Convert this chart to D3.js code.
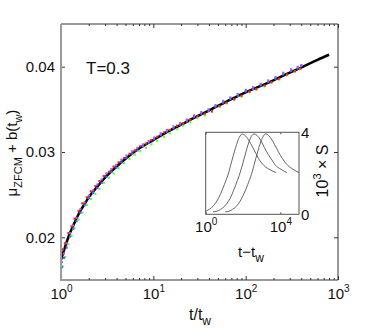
<!DOCTYPE html>
<html>
<head>
<meta charset="utf-8">
<script src="https://cdn.jsdelivr.net/npm/d3@7"></script>
<style>
  body { margin: 0; background: #fff; }
  text { font-family: "Liberation Sans", Arial, Helvetica, sans-serif; fill: #111; }
</style>
</head>
<body>
<div class="chart"></div>
<script>
// main curve: t/tw vs mu_ZFCM + b(tw)
const tLine = [1, 1.1, 1.25, 1.4, 1.6, 1.8, 2, 2.5, 3, 4, 5, 7, 10, 15, 20, 30, 50, 70, 100, 150, 200, 300, 400, 600, 800];
const muLine = [0.01735, 0.0188, 0.0205, 0.0217, 0.0230, 0.0239, 0.0247, 0.0260, 0.0270, 0.0283, 0.0292, 0.0304, 0.0314, 0.0325, 0.0332, 0.0342, 0.0354, 0.0362, 0.0370, 0.0378, 0.0384, 0.0393, 0.0399, 0.0408, 0.0414];

// scattered data (four waiting times), two staggered t/tw grids
const tDotsA = [1.0, 1.05, 1.1, 1.2, 1.3, 1.4, 1.55, 1.7, 1.9, 2.1, 2.35, 2.6, 2.9, 3.3, 3.7, 4.2, 4.8, 5.5, 6.3, 7.2, 8.3, 9.5, 11, 13, 15, 18, 21, 25, 30, 36, 43, 52, 62, 75, 90, 110, 130, 160, 190, 230, 280, 340, 390];
const tDotsB = [1.02, 1.07, 1.15, 1.25, 1.35, 1.47, 1.62, 1.8, 2.0, 2.22, 2.47, 2.75, 3.1, 3.5, 3.95, 4.5, 5.1, 5.9, 6.7, 7.7, 8.9, 10.2, 12, 14, 16.5, 19.5, 23, 27.5, 33, 39.5, 47, 57, 68, 82, 100, 120, 145, 175, 210, 255, 310, 365, 400];
const muRed = [0.0179, 0.0186, 0.0193, 0.0205, 0.0213, 0.0222, 0.0231, 0.0240, 0.0247, 0.0254, 0.0260, 0.0266, 0.0272, 0.0277, 0.0283, 0.0288, 0.0293, 0.0298, 0.0302, 0.0307, 0.0310, 0.0314, 0.0318, 0.0323, 0.0326, 0.0331, 0.0334, 0.0338, 0.0342, 0.0345, 0.0348, 0.0354, 0.0358, 0.0362, 0.0366, 0.0371, 0.0374, 0.0378, 0.0382, 0.0386, 0.0391, 0.0395, 0.0398];
const muGreen = [0.0155, 0.0166, 0.0177, 0.0192, 0.0202, 0.0211, 0.0221, 0.0229, 0.0238, 0.0245, 0.0251, 0.0257, 0.0264, 0.0270, 0.0275, 0.0281, 0.0287, 0.0292, 0.0297, 0.0301, 0.0305, 0.0309, 0.0313, 0.0318, 0.0322, 0.0327, 0.0331, 0.0335, 0.0340, 0.0343, 0.0347, 0.0353, 0.0357, 0.0361, 0.0365, 0.0370, 0.0373, 0.0377, 0.0381, 0.0385, 0.0390, 0.0394, 0.0397];
const muBlue = [0.0165, 0.0176, 0.0188, 0.0201, 0.0210, 0.0219, 0.0229, 0.0238, 0.0246, 0.0252, 0.0258, 0.0264, 0.0271, 0.0277, 0.0282, 0.0288, 0.0293, 0.0298, 0.0302, 0.0307, 0.0311, 0.0315, 0.0320, 0.0324, 0.0328, 0.0332, 0.0336, 0.0341, 0.0345, 0.0348, 0.0353, 0.0358, 0.0362, 0.0366, 0.0371, 0.0374, 0.0378, 0.0382, 0.0386, 0.0391, 0.0395, 0.0398, 0.0401];
const muPurple = [0.0171, 0.0181, 0.0193, 0.0205, 0.0214, 0.0223, 0.0233, 0.0241, 0.0249, 0.0255, 0.0262, 0.0268, 0.0275, 0.0280, 0.0285, 0.0291, 0.0296, 0.0301, 0.0305, 0.0309, 0.0313, 0.0317, 0.0322, 0.0326, 0.0330, 0.0334, 0.0338, 0.0343, 0.0347, 0.0350, 0.0355, 0.0360, 0.0364, 0.0368, 0.0373, 0.0376, 0.0380, 0.0384, 0.0388, 0.0393, 0.0397, 0.0400, 0.0402];
const dotSeries = [
  { color: "#66ff33", t: tDotsA, values: muGreen },
  { color: "#3b6cff", t: tDotsB, values: muBlue },
  { color: "#a35cff", t: tDotsB, values: muPurple },
  { color: "#ff2020", t: tDotsA, values: muRed }
];

// inset: 10^3 x S vs t - tw, three waiting times
const insetT1 = [1, 1.6, 2.5, 4, 6.3, 10, 16, 25, 40, 63, 91, 126, 200, 316, 500, 794, 1259, 1995, 3162, 5754];
const insetS1 = [0.15, 0.25, 0.4, 0.65, 1.0, 1.45, 1.95, 2.6, 3.25, 3.75, 3.92, 3.85, 3.62, 3.3, 2.95, 2.62, 2.4, 2.25, 2.15, 2.03];
const insetT2 = [2.5, 4, 6.3, 10, 16, 25, 40, 63, 100, 158, 251, 380, 562, 891, 1413, 2239, 3548, 5623, 8913, 14125, 22909];
const insetS2 = [0.12, 0.15, 0.24, 0.38, 0.62, 0.95, 1.42, 1.9, 2.52, 3.18, 3.72, 3.92, 3.85, 3.6, 3.25, 2.92, 2.65, 2.38, 2.24, 2.13, 2.03];
const insetT3 = [11, 18, 28, 45, 71, 112, 178, 282, 447, 708, 1122, 1622, 2512, 3981, 6310, 10000, 15849, 25119, 39811, 63096, 100000];
const insetS3 = [0.12, 0.15, 0.25, 0.4, 0.65, 1.0, 1.45, 1.95, 2.6, 3.25, 3.75, 3.92, 3.82, 3.55, 3.22, 2.88, 2.6, 2.38, 2.24, 2.13, 2.03];
const insetCurves = [[insetT1, insetS1], [insetT2, insetS2], [insetT3, insetS3]];

// ticks
const yTicks = [0.02, 0.03, 0.04];
const xMajor = [1, 10, 100, 1000];
const xMajorExp = ["0", "1", "2", "3"];
const insetXTicks = [1, 10000];
const insetXExp = ["0", "4"];
const insetYTicks = [0, 4];

const W = 374, H = 332;
const svg = d3.select(".chart").append("svg").attr("width", W).attr("height", H);

const L = 61, R = 338, T = 24, B = 280;
const x = d3.scaleLog().domain([1, 1000]).range([L, R]);
const y = d3.scaleLinear().domain([0.015, 0.045]).range([B, T]);

// minor ticks for the log axis
const xMinor = [];
[1, 10, 100].forEach((d) => { for (let k = 2; k < 10; k++) xMinor.push(d * k); });

// ---------- axes ----------
function tickAxis(axis, ty) {
  const g = svg.append("g").attr("transform", ty).call(axis);
  g.select(".domain").remove();
  g.selectAll(".tick line").attr("stroke", "#333");
  return g;
}
tickAxis(d3.axisBottom(x).tickValues(xMinor).tickSize(-2).tickFormat(""), `translate(0,${B})`);
tickAxis(d3.axisTop(x).tickValues(xMinor).tickSize(-2).tickFormat(""), `translate(0,${T})`);
const gxb = tickAxis(d3.axisBottom(x).tickValues(xMajor).tickSize(-4).tickFormat(""), `translate(0,${B})`);
tickAxis(d3.axisTop(x).tickValues(xMajor).tickSize(-4).tickFormat(""), `translate(0,${T})`);
const gyl = tickAxis(d3.axisLeft(y).tickValues(yTicks).tickSize(-4).tickPadding(6).tickFormat(d3.format(".2f")), `translate(${L},0)`);
tickAxis(d3.axisRight(y).tickValues(yTicks).tickSize(-4).tickFormat(""), `translate(${R},0)`);
gyl.selectAll(".tick text").style("font-size", "15px").attr("fill", "#111").attr("font-family", null);

// x tick labels 10^k
gxb.selectAll(".tick").each(function (d, i) {
  const t = d3.select(this).append("text").attr("y", 19).attr("text-anchor", "middle")
    .style("font-size", "15px").attr("fill", "#111");
  t.append("tspan").text("10");
  t.append("tspan").attr("dy", -7).style("font-size", "10px").text(xMajorExp[i]);
});

// ---------- data ----------
svg.append("path")
  .datum(tLine.map((t, i) => [t, muLine[i]]))
  .attr("d", d3.line().x((d) => x(d[0])).y((d) => y(d[1])).curve(d3.curveMonotoneX))
  .attr("fill", "none").attr("stroke", "#000").attr("stroke-width", 2.5);

dotSeries.forEach((s) => {
  svg.append("g").selectAll("rect")
    .data(s.t.map((t, i) => [t, s.values[i]]))
    .enter().append("rect")
    .attr("x", (d) => x(d[0]) - 1).attr("y", (d) => y(d[1]) - 1)
    .attr("width", 2.2).attr("height", 2.2)
    .attr("fill", s.color);
});

// frame
svg.append("path").attr("d", `M${L},${T}H${R}V${B}H${L}`).attr("fill", "none").attr("stroke", "#333").attr("stroke-width", 1);
svg.append("line").attr("x1", L).attr("x2", L).attr("y1", T).attr("y2", B + 1).attr("stroke", "#9a9a9a").attr("stroke-width", 2);

// labels
svg.append("text").attr("x", 86).attr("y", 74).style("font-size", "17px").text("T=0.3");

const xl = svg.append("text").attr("x", 200).attr("y", 320).attr("text-anchor", "middle").style("font-size", "16px");
xl.append("tspan").text("t/t");
xl.append("tspan").attr("dy", 5).style("font-size", "12px").text("w");

const yl = svg.append("text").attr("transform", "translate(17,153) rotate(-90)").attr("text-anchor", "middle").style("font-size", "15px");
yl.append("tspan").text("\u03bc");
yl.append("tspan").attr("dy", 5).style("font-size", "11px").text("ZFCM");
yl.append("tspan").attr("dy", -5).text(" + b(t");
yl.append("tspan").attr("dy", 5).style("font-size", "11px").text("w");
yl.append("tspan").attr("dy", -5).text(")");

// ---------- inset ----------
const iL = 205.7, iR = 299, iT = 132.3, iB = 214.3;
const x2 = d3.scaleLog().domain([1, 1e5]).range([iL, iR]);
const y2 = d3.scaleLinear().domain([0, 4]).range([iB, iT]);

svg.append("rect").attr("x", iL).attr("y", iT).attr("width", iR - iL).attr("height", iB - iT)
  .attr("fill", "#fff").attr("stroke", "#555").attr("stroke-width", 1);

const gi = svg.append("g").attr("transform", `translate(0,${iB})`)
  .call(d3.axisBottom(x2).tickValues(insetXTicks).tickSize(-2).tickFormat(""));
gi.select(".domain").remove();
gi.selectAll(".tick line").attr("stroke", "#555");
gi.selectAll(".tick").each(function (d, i) {
  const t = d3.select(this).append("text").attr("y", 18).attr("text-anchor", "middle")
    .style("font-size", "15px").attr("fill", "#111");
  t.append("tspan").text("10");
  t.append("tspan").attr("dy", -7).style("font-size", "10px").text(insetXExp[i]);
});
const git = svg.append("g").attr("transform", `translate(0,${iT})`)
  .call(d3.axisTop(x2).tickValues(insetXTicks).tickSize(-2).tickFormat(""));
git.select(".domain").remove();
git.selectAll(".tick line").attr("stroke", "#555");

const giy = svg.append("g").attr("transform", `translate(${iR},0)`)
  .call(d3.axisRight(y2).tickValues(insetYTicks).tickSize(0).tickPadding(2).tickFormat(d3.format("d")));
giy.select(".domain").remove();
giy.selectAll(".tick text").style("font-size", "15px").attr("fill", "#111").attr("font-family", null);

insetCurves.forEach(([ts, ss]) => {
  svg.append("path")
    .datum(ts.map((t, i) => [t, ss[i]]))
    .attr("d", d3.line().x((d) => x2(d[0])).y((d) => y2(d[1])).curve(d3.curveMonotoneX))
    .attr("fill", "none").attr("stroke", "#555").attr("stroke-width", 0.9);
});

const il = svg.append("text").attr("x", 251).attr("y", 257).attr("text-anchor", "middle").style("font-size", "15px");
il.append("tspan").text("t\u2212t");
il.append("tspan").attr("dy", 5).style("font-size", "12px").text("w");

const iyl = svg.append("text").attr("transform", "translate(328,171) rotate(-90)").attr("text-anchor", "middle").style("font-size", "16px");
iyl.append("tspan").text("10");
iyl.append("tspan").attr("dy", -7).style("font-size", "11px").text("3");
iyl.append("tspan").attr("dy", 7).text(" \u00d7 S");
</script>
</body>
</html>
